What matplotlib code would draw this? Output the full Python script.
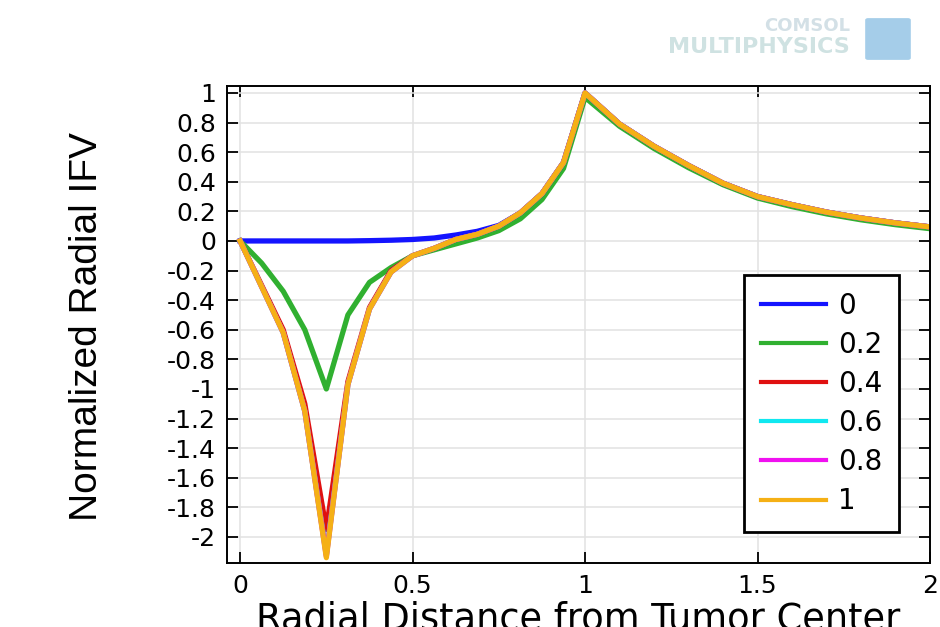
import matplotlib
matplotlib.use("Agg")
import matplotlib.pyplot as plt
from matplotlib.patches import FancyBboxPatch

# radial nodes (mesh points)
r = [0, 0.0625, 0.125, 0.1875, 0.25, 0.3125, 0.375, 0.4375, 0.5, 0.5625,
     0.625, 0.6875, 0.75, 0.8125, 0.875, 0.9375, 1.0,
     1.1, 1.2, 1.3, 1.4, 1.5, 1.6, 1.7, 1.8, 1.9, 2.0]

ifv_0 = [0, 0, 0, 0, 0, 0, 0.002, 0.005, 0.01, 0.02,
         0.04, 0.065, 0.105, 0.19, 0.32, 0.53, 1.0,
         0.79, 0.64, 0.51, 0.39, 0.30, 0.245, 0.195, 0.155, 0.122, 0.095]
ifv_02 = [0, -0.15, -0.34, -0.60, -1.0, -0.50, -0.28, -0.18, -0.10, -0.06,
          -0.02, 0.02, 0.07, 0.15, 0.28, 0.49, 0.97,
          0.775, 0.625, 0.495, 0.38, 0.29, 0.232, 0.183, 0.143, 0.11, 0.083]
ifv_04 = [0, -0.30, -0.60, -1.10, -1.95, -0.95, -0.45, -0.20, -0.10, -0.05,
          0.01, 0.045, 0.10, 0.19, 0.32, 0.53, 1.0,
          0.79, 0.64, 0.51, 0.39, 0.30, 0.245, 0.195, 0.155, 0.122, 0.095]
ifv_06 = [0, -0.31, -0.62, -1.15, -2.12, -0.97, -0.46, -0.21, -0.10, -0.05,
          0.01, 0.045, 0.10, 0.19, 0.32, 0.53, 1.0,
          0.79, 0.64, 0.51, 0.39, 0.30, 0.245, 0.195, 0.155, 0.122, 0.095]
ifv_08 = [0, -0.31, -0.62, -1.15, -2.13, -0.97, -0.46, -0.21, -0.10, -0.05,
          0.01, 0.045, 0.10, 0.19, 0.32, 0.53, 1.0,
          0.79, 0.64, 0.51, 0.39, 0.30, 0.245, 0.195, 0.155, 0.122, 0.095]
ifv_1 = [0, -0.31, -0.62, -1.15, -2.14, -0.97, -0.46, -0.21, -0.10, -0.05,
         0.01, 0.045, 0.10, 0.19, 0.32, 0.53, 1.0,
         0.79, 0.64, 0.51, 0.39, 0.30, 0.245, 0.195, 0.155, 0.122, 0.095]

labels = ['0', '0.2', '0.4', '0.6', '0.8', '1']
colors = ['#1414ff', '#30b030', '#e01010', '#10e8f0', '#f010f0', '#f5b015']
series = [ifv_0, ifv_02, ifv_04, ifv_06, ifv_08, ifv_1]

x_ticks = [0, 0.5, 1, 1.5, 2]
x_ticklabels = ['0', '0.5', '1', '1.5', '2']
y_ticks = [1, 0.8, 0.6, 0.4, 0.2, 0, -0.2, -0.4, -0.6, -0.8, -1, -1.2,
           -1.4, -1.6, -1.8, -2]
y_ticklabels = ['1', '0.8', '0.6', '0.4', '0.2', '0', '-0.2', '-0.4', '-0.6',
                '-0.8', '-1', '-1.2', '-1.4', '-1.6', '-1.8', '-2']

fig = plt.figure(figsize=(9.4, 6.27), dpi=100)
ax = fig.add_axes([227 / 940, 1 - 563 / 627, (930 - 227) / 940, (563 - 86) / 627])

for ys, c, lab in zip(series, colors, labels):
    ax.plot(r, ys, color=c, lw=3.8, label=lab, solid_joinstyle='round')

ax.set_xlim(-0.038, 2.0)
ax.set_ylim(-2.176, 1.047)
ax.set_xticks(x_ticks)
ax.set_xticklabels(x_ticklabels)
ax.set_yticks(y_ticks)
ax.set_yticklabels(y_ticklabels)
ax.grid(True, color='#e2e2e2', lw=1.1)
ax.set_axisbelow(True)
ax.tick_params(direction='in', top=True, right=True, length=8, width=1.3,
               labelsize=18, pad=8, colors='black')
for s in ax.spines.values():
    s.set_linewidth(1.4)

leg = ax.legend(loc='upper left', bbox_to_anchor=(744 / 940, 1 - 275 / 627),
                bbox_transform=fig.transFigure, borderaxespad=0,
                fontsize=20, handlelength=2.35, handletextpad=0.45,
                labelspacing=0.4, borderpad=0.6, fancybox=False,
                framealpha=1, edgecolor='black')
leg.get_frame().set_linewidth(2)
for h in leg.get_lines():
    h.set_linewidth(3)

# axis labels
fig.text(87 / 940, 1 - 327 / 627, 'Normalized Radial IFV', rotation=90,
         ha='center', va='center', fontsize=28, family='Liberation Sans')
fig.text(578 / 940, 1 - 630 / 627, 'Radial Distance from Tumor Center',
         ha='center', va='baseline', fontsize=26.5)

# faint watermark logo
fig.text(850 / 940, 1 - 26 / 627, 'COMSOL', ha='right', va='center',
         fontsize=13, color='#d3e0e6', fontweight='bold')
fig.text(850 / 940, 1 - 47 / 627, 'MULTIPHYSICS', ha='right', va='center',
         fontsize=16, color='#cfe2e2', fontweight='bold')
fig.patches.append(FancyBboxPatch((868 / 940, 1 - 58 / 627), 40 / 940, 38 / 627,
                                  boxstyle='round,pad=0.003', transform=fig.transFigure,
                                  facecolor='#7fb9e0', edgecolor='none', alpha=0.7))

fig.savefig('out.png', dpi=100)
